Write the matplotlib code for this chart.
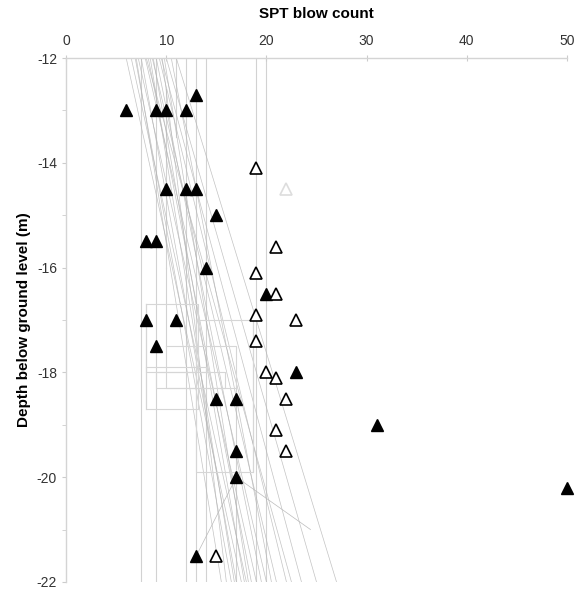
import matplotlib.pyplot as plt
from matplotlib.ticker import MultipleLocator

plt.rcParams['font.family'] = ['Liberation Sans', 'DejaVu Sans']
plt.rcParams['axes.unicode_minus'] = False

# measured SPT blow counts (filled) and corrected / other boreholes (open)
filled_n = [6, 9, 10, 12, 13, 10, 12, 13, 15, 8, 9, 14, 20, 8, 11, 9, 23, 15, 17, 31,
            17, 17, 50, 13]
filled_z = [-13.0, -13.0, -13.0, -13.0, -12.7, -14.5, -14.5, -14.5, -15.0, -15.5, -15.5,
            -16.0, -16.5, -17.0, -17.0, -17.5, -18.0, -18.5, -18.5, -19.0, -19.5, -20.0,
            -20.2, -21.5]
open_n = [19, 21, 19, 21, 19, 23, 19, 20, 21, 22, 21, 22, 15]
open_z = [-14.1, -15.6, -16.1, -16.5, -16.9, -17.0, -17.4, -18.0, -18.1, -18.5, -19.1,
          -19.5, -21.5]
faint_n = [22]
faint_z = [-14.5]

# background profiles
vert_x = [7.5, 9, 12, 13, 14, 19, 20]
part_x = [10, 11, 17, 18.7, 8, 10]
part_top = [-12.6, -12.0, -18.3, -17.0, -16.7, -16.0]
part_bot = [-16.0, -13.5, -22.0, -19.9, -18.7, -17.5]
slant_top = [6.0, 6.5, 6.9, 7.2, 7.5, 7.9, 8.2, 8.6, 8.7, 9.0, 9.3, 9.6, 10.0, 10.5, 11.0,
             7.0, 8.0, 9.8, 8.4, 9.5]
slant_bot = [17.5, 18.0, 16.5, 19.0, 17.0, 20.0, 18.5, 21.0, 17.8, 19.5, 22.0, 16.0, 25.0,
             20.5, 27.0, 15.5, 22.5, 18.2, 16.8, 23.5]
box_x0 = [8, 10, 13, 9, 8]
box_x1 = [13.2, 17, 18.7, 15.9, 14]
box_y0 = [-16.7, -17.5, -17.0, -18.0, -17.9]
box_y1 = [-18.7, -18.3, -19.9, -18.3, -18.0]

fig = plt.figure(figsize=(5.85, 5.89), dpi=100)
ax = fig.add_axes([0.113, 0.012, 0.856, 0.8895])

for x in vert_x:
    ax.plot([x, x], [-12, -22], color='#d2d2d2', lw=0.8, zorder=1)
for x, t, b in zip(part_x, part_top, part_bot):
    ax.plot([x, x], [t, b], color='#d2d2d2', lw=0.8, zorder=1)
for t, b in zip(slant_top, slant_bot):
    ax.plot([t, b], [-12, -22], color='#b4b4b4', lw=0.5, alpha=0.8, zorder=1)
ax.plot([13, 17, 24.4], [-21.5, -20, -21.0], color='#bbbbbb', lw=0.5, zorder=1)
for x0, x1, y0, y1 in zip(box_x0, box_x1, box_y0, box_y1):
    ax.plot([x0, x1, x1, x0, x0], [y0, y0, y1, y1, y0], color='#d6d6d6', lw=0.8, zorder=1)

ax.plot(filled_n, filled_z, '^', color='black', ms=9, zorder=3, clip_on=False)
ax.plot(open_n, open_z, '^', mfc='white', mec='black', mew=1.2, ms=9, zorder=3)
ax.plot(faint_n, faint_z, '^', mfc='white', mec='#dddddd', mew=1.2, ms=9, zorder=3)

ax.set_xlim(0, 50)
ax.set_ylim(-22, -12)
ax.xaxis.tick_top()
ax.xaxis.set_label_position('top')
ax.xaxis.set_major_locator(MultipleLocator(10))
ax.yaxis.set_major_locator(MultipleLocator(2))
ax.yaxis.set_minor_locator(MultipleLocator(1))
ax.set_xlabel('SPT blow count', fontsize=11, fontweight='bold', labelpad=11)
ax.set_ylabel('Depth below ground level (m)', fontsize=11, fontweight='bold', labelpad=4)
ax.tick_params(axis='both', which='both', labelsize=10, color='#cccccc', length=3,
               labelcolor='#333333')
ax.tick_params(axis='x', direction='inout', length=5, pad=5)
for s in ['bottom', 'right']:
    ax.spines[s].set_visible(False)
for s in ['top', 'left']:
    ax.spines[s].set_color('#d4d4d4')
    ax.spines[s].set_linewidth(1.0)

fig.savefig('out.png', dpi=100)
